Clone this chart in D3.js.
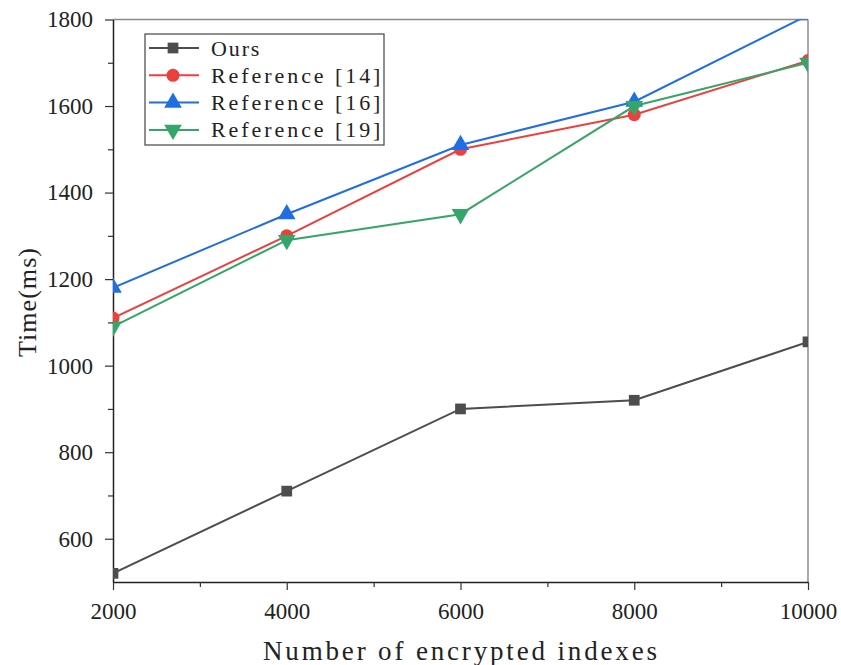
<!DOCTYPE html>
<html>
<head>
<meta charset="utf-8">
<script src="https://cdn.jsdelivr.net/npm/d3@7"></script>
<style>
  body { margin: 0; background: #fff; }
  svg { display: block; }
</style>
</head>
<body>
<svg width="841" height="665"></svg>
<script>
// data
let xValues = [2000, 4000, 6000, 8000, 10000]
let ours = [520, 710, 900, 920, 1055]
let ref14 = [1110, 1300, 1500, 1580, 1705]
let ref16 = [1180, 1350, 1510, 1610, 1810]
let ref19 = [1090, 1290, 1350, 1600, 1700]
let seriesNames = ["Ours", "Reference [14]", "Reference [16]", "Reference [19]"]
let xTicks = [2000, 4000, 6000, 8000, 10000]
let yTicks = [600, 800, 1000, 1200, 1400, 1600, 1800]

let colors = ["#4d4d4d", "#ee3f3f", "#1f6fe0", "#36a56a"]
let shapes = [d3.symbolSquare, d3.symbolCircle, d3.symbolTriangle, d3.symbolTriangle]

let margin = {left: 113, right: 33, top: 19.5, bottom: 83}
let width = 841, height = 665

let svg = d3.select('svg')
let x = d3.scaleLinear().domain([2000, 10000]).range([margin.left, width - margin.right])
let y = d3.scaleLinear().domain([500, 1800]).range([height - margin.bottom, margin.top])

let series = [ours, ref14, ref16, ref19].map(function(vals, i) {
  return {name: seriesNames[i], color: colors[i], shape: shapes[i], flip: i == 3,
    values: vals.map(function(v, j) { return {x: xValues[j], y: v} })}
})

svg.append('clipPath').attr('id', 'plotclip')
  .append('rect')
  .attr('x', margin.left).attr('y', margin.top)
  .attr('width', width - margin.left - margin.right)
  .attr('height', height - margin.top - margin.bottom)

// frame: top and right in grey
svg.append('line').attr('x1', margin.left).attr('x2', width - margin.right)
  .attr('y1', margin.top).attr('y2', margin.top)
  .attr('stroke', '#8c8c8c').attr('stroke-width', 1.5)
svg.append('line').attr('x1', width - margin.right).attr('x2', width - margin.right)
  .attr('y1', margin.top).attr('y2', height - margin.bottom)
  .attr('stroke', '#8c8c8c').attr('stroke-width', 1.5)

let tickFont = "'Liberation Serif', 'Times New Roman', serif"

let xAxis = svg.append('g').attr('transform', 'translate(0,' + (height - margin.bottom) + ')')
  .call(d3.axisBottom(x).tickValues(xTicks).tickSize(8).tickSizeOuter(0).tickPadding(9).tickFormat(d3.format('d')))
let xMinor = svg.append('g').attr('transform', 'translate(0,' + (height - margin.bottom) + ')')
  .call(d3.axisBottom(x).tickValues([3000, 5000, 7000, 9000]).tickSize(5).tickFormat(''))
xMinor.select('.domain').remove()

let yAxis = svg.append('g').attr('transform', 'translate(' + margin.left + ',0)')
  .call(d3.axisLeft(y).tickValues(yTicks).tickSize(8).tickSizeOuter(0).tickPadding(12).tickFormat(d3.format('d')))
let yMinor = svg.append('g').attr('transform', 'translate(' + margin.left + ',0)')
  .call(d3.axisLeft(y).tickValues([700, 900, 1100, 1300, 1500, 1700]).tickSize(5).tickFormat(''))
yMinor.select('.domain').remove()

svg.selectAll('.domain').attr('stroke', '#222').attr('stroke-width', 1.5)
svg.selectAll('.tick line').attr('stroke', '#333').attr('stroke-width', 1.2)
svg.selectAll('.tick text').attr('font-family', tickFont).attr('font-size', 23).attr('fill', '#222')
xAxis.selectAll('.tick text').attr('dy', '0.85em')

// lines and markers
let plot = svg.append('g').attr('clip-path', 'url(#plotclip)')
let line = d3.line().x(function(d) { return x(d.x) }).y(function(d) { return y(d.y) })

series.forEach(function(s) {
  plot.append('path').datum(s.values)
    .attr('d', line)
    .attr('fill', 'none')
    .attr('stroke', s.color)
    .attr('stroke-width', 2)
  plot.selectAll(null).data(s.values).enter().append('path')
    .attr('d', d3.symbol().type(s.shape).size(s.shape == d3.symbolSquare ? 115 : 135))
    .attr('transform', function(d) {
      return 'translate(' + x(d.x) + ',' + y(d.y) + ')' + (s.flip ? ' rotate(180)' : '')
    })
    .attr('fill', s.color)
})

// legend
let monoFont = "'Liberation Serif', serif"
let legend = svg.append('g')
legend.append('rect').attr('x', 145).attr('y', 34).attr('width', 239).attr('height', 111)
  .attr('fill', '#fff').attr('stroke', '#444').attr('stroke-width', 1.2)
series.forEach(function(s, i) {
  let ly = 48 + i * 27.3
  legend.append('line').attr('x1', 149).attr('x2', 199).attr('y1', ly).attr('y2', ly)
    .attr('stroke', s.color).attr('stroke-width', 2)
  legend.append('path')
    .attr('d', d3.symbol().type(s.shape).size(s.shape == d3.symbolSquare ? 115 : 135))
    .attr('transform', 'translate(173,' + ly + ')' + (s.flip ? ' rotate(180)' : ''))
    .attr('fill', s.color)
  legend.append('text').attr('x', 211).attr('y', ly + 7.5)
    .attr('font-family', monoFont).attr('font-size', 22).attr('fill', '#222')
    .attr('textLength', s.name.length * 12.1).attr('lengthAdjust', 'spacing')
    .text(s.name)
})

// axis titles
svg.append('text').attr('x', 263).attr('y', 660)
  .attr('font-family', monoFont).attr('font-size', 27).attr('fill', '#222')
  .attr('textLength', 394).attr('lengthAdjust', 'spacing')
  .text('Number of encrypted indexes')
svg.append('text')
  .attr('transform', 'translate(36,357) rotate(-90)')
  .attr('font-family', monoFont).attr('font-size', 26).attr('fill', '#222')
  .attr('textLength', 109).attr('lengthAdjust', 'spacing')
  .text('Time(ms)')
</script>
</body>
</html>
